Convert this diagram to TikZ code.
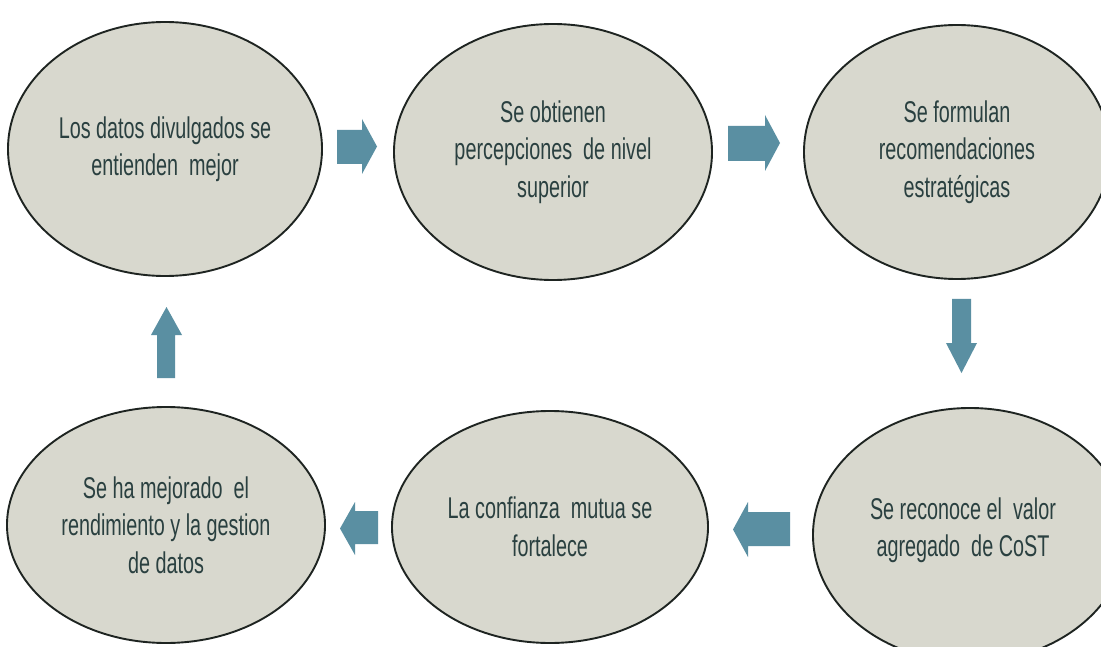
\documentclass[tikz,border=0pt]{standalone}
\usepackage{fontspec}
\setmainfont{Liberation Sans}[FakeStretch=0.66]
\usetikzlibrary{shapes.geometric}
\definecolor{ellfill}{HTML}{D8D8CE}
\definecolor{ellline}{HTML}{1E2421}
\definecolor{txtcol}{HTML}{2A4040}
\definecolor{arrcol}{HTML}{5A8FA2}
\tikzset{
  bubble/.style={ellipse, draw=ellline, line width=1.9pt, fill=ellfill, inner sep=0pt,
    text=txtcol, align=center, font=\fontsize{30}{37.5}\selectfont},
  blockarrow/.style={fill=arrcol, draw=none}
}
\begin{document}
\begin{tikzpicture}[x=1pt,y=-1pt]
\useasboundingbox (0,0) rectangle (1101,647);
\fill[white] (0,0) rectangle (1101,647);
\clip (0,0) rectangle (1101,647);
% ellipses
\node[bubble, minimum width=314pt, minimum height=254pt] (e1) at (165,149) {Los datos divulgados se\\entienden\ \ mejor};
\node[bubble, minimum width=318pt, minimum height=256pt] (e2) at (553,152) {Se obtienen\\percepciones\ \ de nivel\\superior};
\node[bubble, minimum width=306pt, minimum height=254pt] (e3) at (957,152) {Se formulan\\recomendaciones\\estratégicas};
\node[bubble, minimum width=318pt, minimum height=236pt] (e4) at (166,525) {Se ha mejorado\ \ el\\rendimiento y la gestion\\de datos};
\node[bubble, minimum width=316pt, minimum height=232pt] (e5) at (550,527) {La confianza\ \ mutua se\\fortalece};
\node[bubble, minimum width=314pt, minimum height=254pt] (e6) at (970,535) {};
\node[text=txtcol, align=center, font=\fontsize{30}{37.5}\selectfont] (t6) at (963,530) {Se reconoce el\ \ valor\\agregado\ \ de CoST};
% block arrows
\fill[blockarrow] (337,130) -- (362,130) -- (362,119) -- (377,146.5) -- (362,174) -- (362,164) -- (337,164) -- cycle;
\fill[blockarrow] (728,126) -- (765,126) -- (765,115) -- (780,143) -- (765,171) -- (765,161) -- (728,161) -- cycle;
\fill[blockarrow] (952,299) -- (971,299) -- (971,343) -- (977,343) -- (961.5,373) -- (946,343) -- (952,343) -- cycle;
\fill[blockarrow] (790,512) -- (748,512) -- (748,502) -- (733,529.5) -- (748,557) -- (748,546) -- (790,546) -- cycle;
\fill[blockarrow] (378,511) -- (355,511) -- (355,502) -- (340,528.5) -- (355,555) -- (355,544) -- (378,544) -- cycle;
\fill[blockarrow] (157,378) -- (175,378) -- (175,335) -- (182,335) -- (166.5,307) -- (151,335) -- (157,335) -- cycle;
\end{tikzpicture}
\end{document}
